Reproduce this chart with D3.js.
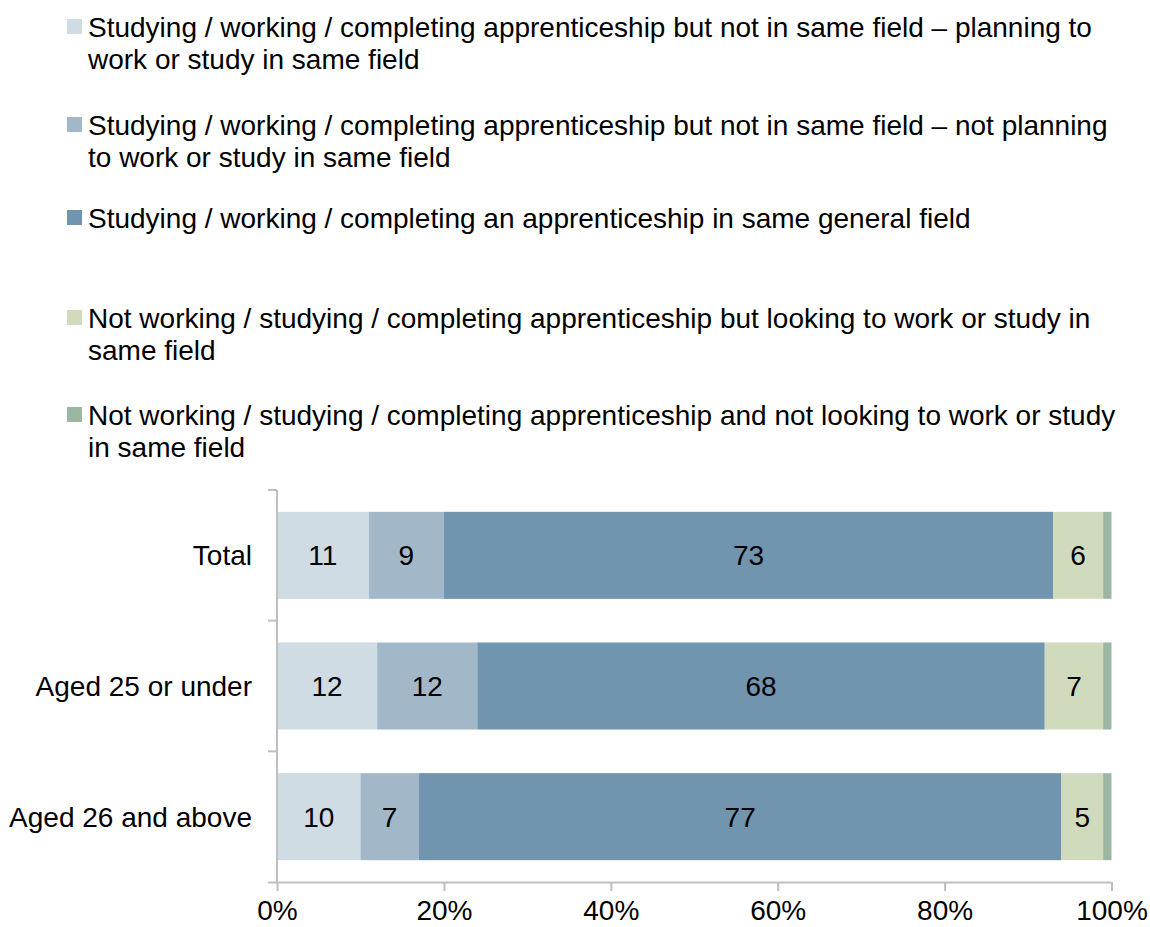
<!DOCTYPE html>
<html>
<head>
<meta charset="utf-8">
<script src="https://cdn.jsdelivr.net/npm/d3@7/dist/d3.min.js"></script>
<style>
  html, body { margin: 0; padding: 0; background: #fff; }
  svg { display: block; font-family: "Liberation Sans", Arial, sans-serif; }
</style>
</head>
<body>
<svg id="chart" width="1150" height="927"></svg>
<script>
// Respondent groups (rows) and outcome series (stacked segments, %)
const categories = ["Total", "Aged 25 or under", "Aged 26 and above"];

const seriesNames = [
  "Studying / working / completing apprenticeship but not in same field \u2013 planning to work or study in same field",
  "Studying / working / completing apprenticeship but not in same field \u2013 not planning to work or study in same field",
  "Studying / working / completing an apprenticeship in same general field",
  "Not working / studying / completing apprenticeship but looking to work or study in same field",
  "Not working / studying / completing apprenticeship and not looking to work or study in same field"
];

// Legend text broken into its printed lines
const legendLines = [
  ["Studying / working / completing apprenticeship but not in same field \u2013 planning to", "work or study in same field"],
  ["Studying / working / completing apprenticeship but not in same field \u2013 not planning", "to work or study in same field"],
  ["Studying / working / completing an apprenticeship in same general field"],
  ["Not working / studying / completing apprenticeship but looking to work or study in", "same field"],
  ["Not working / studying / completing apprenticeship and not looking to work or study", "in same field"]
];

const planningSameField    = [11, 12, 10];
const notPlanningSameField = [9, 12, 7];
const inSameField          = [73, 68, 77];
const lookingSameField     = [6, 7, 5];
const notLookingSameField  = [1, 1, 1];

const xTicks = [0, 20, 40, 60, 80, 100];

const colors = ["#cfdce4", "#a2b8c8", "#7195ae", "#d0dbbe", "#9bb7a1"];

const values = [planningSameField, notPlanningSameField, inSameField, lookingSameField, notLookingSameField];

const rows = categories.map((c, i) => {
  const r = { category: c };
  values.forEach((v, k) => { r["s" + k] = v[i]; });
  return r;
});
const keys = values.map((v, k) => "s" + k);

const svg = d3.select("#chart");
const fontSize = 28;
const axisColor = "#bfbfbf";

const x = d3.scaleLinear().domain([0, 100]).range([277, 1111.5]);
const y = d3.scaleBand().domain(categories).range([490, 882])
  .paddingInner(0.334).paddingOuter(0.167);

const stacked = d3.stack().keys(keys)(rows);

// Bars
const layers = svg.append("g").selectAll("g")
  .data(stacked).join("g")
  .attr("fill", (d, i) => colors[i]);

layers.selectAll("rect")
  .data(d => d.map(s => ({ s, key: d.key })))
  .join("rect")
  .attr("x", d => x(d.s[0]))
  .attr("y", d => y(d.s.data.category))
  .attr("width", d => x(d.s[1]) - x(d.s[0]))
  .attr("height", y.bandwidth());

// Value labels on all but the thin last segment
layers.filter((d, i) => i < 4).selectAll("text")
  .data(d => d.map(s => ({ s, key: d.key })))
  .join("text")
  .attr("x", d => (x(d.s[0]) + x(d.s[1])) / 2)
  .attr("y", d => y(d.s.data.category) + y.bandwidth() / 2)
  .attr("dy", "0.36em")
  .attr("text-anchor", "middle")
  .attr("font-size", fontSize)
  .attr("fill", "#000")
  .text(d => d.s.data[d.key]);

// X axis
const xAxis = svg.append("g")
  .attr("transform", "translate(0,882)")
  .call(d3.axisBottom(x).tickValues(xTicks).tickFormat(d => d + "%").tickSize(9).tickSizeOuter(0));
xAxis.select(".domain").attr("stroke", axisColor).attr("stroke-width", 2)
  .attr("d", `M268,0.5H${x(100)}`);
xAxis.selectAll(".tick line").attr("stroke", axisColor).attr("stroke-width", 2);
xAxis.selectAll(".tick text").attr("font-size", fontSize).attr("fill", "#000")
  .attr("font-family", "Liberation Sans, Arial, sans-serif").attr("dy", "0.93em");

// Y axis: line with ticks between categories
const yAxis = svg.append("g");
const [y0, y1] = y.range();
yAxis.append("line").attr("x1", x(0)).attr("x2", x(0)).attr("y1", y0).attr("y2", y1)
  .attr("stroke", axisColor).attr("stroke-width", 2);
const edges = d3.range(categories.length).map(i => y0 + i * y.step());
yAxis.selectAll("line.tick").data(edges).join("line").attr("class", "tick")
  .attr("x1", 268).attr("x2", x(0)).attr("y1", d => d).attr("y2", d => d)
  .attr("stroke", axisColor).attr("stroke-width", 2);
yAxis.selectAll("text").data(categories).join("text")
  .attr("x", 252)
  .attr("y", d => y(d) + y.bandwidth() / 2)
  .attr("dy", "0.36em")
  .attr("text-anchor", "end")
  .attr("font-size", fontSize)
  .attr("fill", "#000")
  .text(d => d);

// Legend
const legendBaselines = [37, 135, 228, 328, 425];
const lineHeight = 31.5;
const legend = svg.append("g").selectAll("g")
  .data(seriesNames).join("g");
legend.append("rect")
  .attr("x", 67).attr("y", (d, i) => legendBaselines[i] - 18)
  .attr("width", 15).attr("height", 15)
  .attr("fill", (d, i) => colors[i]);
legend.append("text")
  .attr("x", 88).attr("y", (d, i) => legendBaselines[i])
  .attr("font-size", fontSize).attr("fill", "#000")
  .selectAll("tspan")
  .data((d, i) => legendLines[i])
  .join("tspan")
  .attr("x", 88)
  .attr("dy", (d, j) => j === 0 ? 0 : lineHeight)
  .text(d => d);
</script>
</body>
</html>
